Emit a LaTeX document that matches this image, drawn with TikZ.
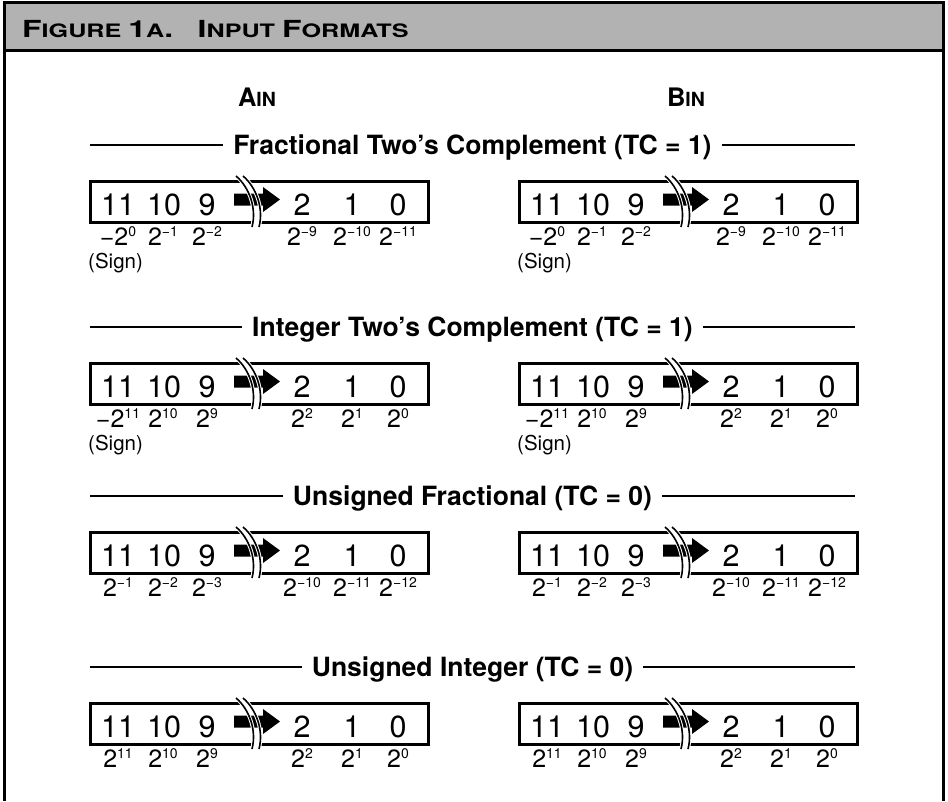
\documentclass[tikz,border=0pt]{standalone}
\usepackage{fontspec}
\setmainfont{TeX Gyre Heros}
\definecolor{hdrgray}{gray}{0.7}
% large and small capitals for the small-caps headings
\newcommand\capA{\fontsize{23.5}{23.5}\selectfont}
\newcommand\capB{\fontsize{18.5}{18.5}\selectfont}
% power of two with a raised exponent
\newcommand\pw[1]{2\raisebox{8.5pt}{\fontsize{14}{14}\selectfont #1}}
\newcommand\negsign{−}
\tikzset{
  regline/.style={line width=3pt, line join=miter},
  brk/.style={line width=1.6pt},
  brkcase/.style={line width=3.6pt, white},
  digit/.style={anchor=base, inner sep=0pt, font=\fontsize{30.5}{30.5}\selectfont},
  lbl/.style={anchor=base, inner sep=0pt, font=\fontsize{25}{25}\selectfont},
  signlbl/.style={anchor=base west, inner sep=0pt, font=\fontsize{20.5}{20.5}\selectfont},
  heading/.style={anchor=base, fill=white, inner xsep=10pt, inner ysep=2pt,
    font=\bfseries\fontsize{26.5}{26.5}\selectfont},
  colhead/.style={anchor=base, inner sep=0pt, font=\bfseries},
  rule/.style={line width=1.3pt},
  frame/.style={line width=3pt},
}
% 12-bit register with a break between bit 9 and bit 2
% #1 name, #2 left x, #3 top y, #4-#9 weights under the bits
\newcommand\bitreg[9]{%
  \begin{scope}[shift={(#2,#3)}]
    \begin{scope}
      \clip (-10,-10) -- (146,-10) -- (146,-5) .. controls (159,6) and (167,27) .. (162,46) -- (162,60) -- (-10,60) -- cycle;
      \draw[regline] (200,0) -- (0,0) -- (0,41) -- (200,41);
    \end{scope}
    \begin{scope}
      \clip (153,-10) -- (153,-5) .. controls (166,6) and (174,27) .. (169,46) -- (169,60) -- (350,60) -- (350,-10) -- cycle;
      \draw[regline] (120,0) -- (338,0) -- (338,41) -- (120,41);
    \end{scope}
    \fill (144,12.5) -- (173,12.5) -- (173,6) -- (190,18.5) -- (173,31) -- (173,24.5) -- (144,24.5) -- cycle;
    \foreach \dx in {0,7} {
      \draw[brkcase] (146+\dx,-5) .. controls (159+\dx,6) and (167+\dx,27) .. (162+\dx,46);
      \draw[brk] (146+\dx,-5) .. controls (159+\dx,6) and (167+\dx,27) .. (162+\dx,46);
    }
    \node[digit] (#1-b11) at (28,34) {11};
    \node[digit] (#1-b10) at (74,34) {10};
    \node[digit] (#1-b9)  at (117,34) {9};
    \node[digit] (#1-b2)  at (212,34) {2};
    \node[digit] (#1-b1)  at (262,34) {1};
    \node[digit] (#1-b0)  at (308,34) {0};
    \node[lbl] (#1-w11) at (28,64) {#4};
    \node[lbl] (#1-w10) at (73,64) {#5};
    \node[lbl] (#1-w9)  at (117,64) {#6};
    \node[lbl] (#1-w2)  at (212,64) {#7};
    \node[lbl] (#1-w1)  at (262,64) {#8};
    \node[lbl] (#1-w0)  at (308,64) {#9};
  \end{scope}}
% format title with a rule on each side
\newcommand\fmtsection[3]{% #1 name, #2 rule y, #3 text
  \node[heading] (#1) at (472.5,#2+9) {#3};
  \coordinate (#1-l) at (90,#2);
  \coordinate (#1-r) at (855,#2);
  \draw[rule] (#1-l) -- (#1-l -| #1.west);
  \draw[rule] (#1.east |- #1-r) -- (#1-r);}
\begin{document}
\begin{tikzpicture}[x=1pt, y=-1pt]
  \useasboundingbox (0,0) rectangle (948,801);
  % outer frame and shaded title bar
  \fill[hdrgray] (4.5,2) rectangle (943.5,50);
  \draw[frame] (4.5,801) -- (4.5,2) -- (943.5,2) -- (943.5,801);
  \draw[frame] (4.5,50) -- (943.5,50);
  \node[anchor=base west, inner sep=0pt, font=\bfseries] (title) at (22,37)
    {\scalebox{1.36}[1]{\capA F\capB IGURE \capA 1\capB A\capA .\hspace{18pt}I\capB NPUT \capA F\capB ORMATS}};
  % column headings
  \node[colhead] (ain) at (257,106) {\fontsize{25.5}{25.5}\selectfont A\fontsize{19.5}{19.5}\selectfont IN};
  \node[colhead] (bin) at (686,106) {\fontsize{25.5}{25.5}\selectfont B\fontsize{19.5}{19.5}\selectfont IN};

  % fractional two's complement
  \fmtsection{s1}{145}{Fractional Two’s Complement (TC = 1)}
  \bitreg{a1}{90}{181}{\negsign\pw{0}}{\pw{−1}}{\pw{−2}}{\pw{−9}}{\pw{−10}}{\pw{−11}}
  \bitreg{b1}{519}{181}{\negsign\pw{0}}{\pw{−1}}{\pw{−2}}{\pw{−9}}{\pw{−10}}{\pw{−11}}
  \node[signlbl] (a1s) at (88,268) {(Sign)};
  \node[signlbl] (b1s) at (517,268) {(Sign)};

  % integer two's complement
  \fmtsection{s2}{327}{Integer Two’s Complement (TC = 1)}
  \bitreg{a2}{90}{363}{\negsign\pw{11}}{\pw{10}}{\pw{9}}{\pw{2}}{\pw{1}}{\pw{0}}
  \bitreg{b2}{519}{363}{\negsign\pw{11}}{\pw{10}}{\pw{9}}{\pw{2}}{\pw{1}}{\pw{0}}
  \node[signlbl] (a2s) at (88,450) {(Sign)};
  \node[signlbl] (b2s) at (517,450) {(Sign)};

  % unsigned fractional
  \fmtsection{s3}{496}{Unsigned Fractional (TC = 0)}
  \bitreg{a3}{90}{532}{\pw{−1}}{\pw{−2}}{\pw{−3}}{\pw{−10}}{\pw{−11}}{\pw{−12}}
  \bitreg{b3}{519}{532}{\pw{−1}}{\pw{−2}}{\pw{−3}}{\pw{−10}}{\pw{−11}}{\pw{−12}}

  % unsigned integer
  \fmtsection{s4}{667}{Unsigned Integer (TC = 0)}
  \bitreg{a4}{90}{703}{\pw{11}}{\pw{10}}{\pw{9}}{\pw{2}}{\pw{1}}{\pw{0}}
  \bitreg{b4}{519}{703}{\pw{11}}{\pw{10}}{\pw{9}}{\pw{2}}{\pw{1}}{\pw{0}}
\end{tikzpicture}
\end{document}
